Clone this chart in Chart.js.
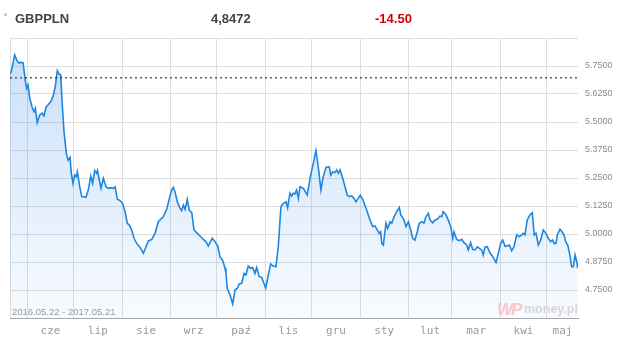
<!DOCTYPE html>
<html>
<head>
<meta charset="utf-8">
<script src="https://cdn.jsdelivr.net/npm/chart.js@4.4.0/dist/chart.umd.min.js"></script>
<style>
  html, body { margin: 0; padding: 0; background: #fff; }
  #wrap { position: relative; width: 626px; height: 351px; overflow: hidden; font-family: "Liberation Sans", Arial, sans-serif; }
  #chart { position: absolute; left: 0; top: 0; }
  .hd { position: absolute; top: 11px; font-weight: bold; font-size: 13px; line-height: 16px; color: #444; white-space: nowrap; }
  #chev { position: absolute; left: 3px; top: 13px; font-size: 10px; color: #888; font-family: "DejaVu Sans", sans-serif; }
  #range { position: absolute; left: 12px; top: 306px; font-size: 9.5px; line-height: 11px; color: #9a9a9a; white-space: nowrap; }
  #wm-wp { position: absolute; left: 497px; top: 300px; font-size: 17px; font-weight: bold; font-style: italic; color: #f5c9c9; letter-spacing: -2px; }
  #wm-money { position: absolute; left: 524px; top: 302px; font-size: 12.5px; font-weight: bold; color: #d6d6d6; }
</style>
</head>
<body>
<div id="wrap">
  <canvas id="chart" width="626" height="351"></canvas>
  <div id="chev">˅</div>
  <div class="hd" style="left:15px">GBPPLN</div>
  <div class="hd" style="left:211px">4,8472</div>
  <div class="hd" style="left:375px;color:#d40000">-14.50</div>
  <div id="range">2016.05.22 - 2017.05.21</div>
  <div id="wm-wp">WP</div>
  <div id="wm-money">money.pl</div>
</div>
<script>
// dni od 2016-05-21
const dayOffsets = [
  0, 0.8, 3.0, 4.5, 5.8, 6.9, 8.4, 9.8, 10.7, 11.6, 12.7, 14.1, 15.4, 16.3, 17.5, 19.1,
  20.8, 21.8, 23.3, 24.4, 26.2, 27.6, 29.1, 30.4, 31.5, 32.6, 33.4, 34.7, 36.2, 37.3, 38.6, 39.4,
  40.5, 41.6, 42.6, 43.3, 44.8, 46.1, 48.8, 50.3, 51.9, 53.1, 54.4, 55.7, 56.2, 57.4, 58.5, 60.0,
  61.7, 63.2, 64.7, 66.4, 67.5, 69.0, 70.7, 72.4, 73.9, 75.4, 76.7, 78.2, 79.7, 81.4, 83.5, 85.7,
  87.4, 88.9, 91.1, 93.2, 95.3, 96.8, 98.5, 100.7, 102.4, 103.9, 104.9, 106.0, 107.5, 109.2, 110.3, 111.4,
  112.5, 113.9, 115.2, 116.8, 118.2, 120.0, 122.1, 124.2, 125.9, 127.4, 128.5, 130.0, 131.7, 133.5, 134.9, 136.7,
  138.2, 138.8, 139.6, 141.4, 143.1, 144.6, 146.1, 147.3, 148.9, 150.4, 151.6, 153.1, 154.7, 156.0, 157.4, 158.5,
  160.2, 161.7, 162.8, 164.3, 166.0, 167.5, 169.2, 170.9, 172.4, 174.1, 175.6, 177.4, 178.4, 179.9, 181.0, 182.0,
  183.1, 184.2, 185.3, 186.4, 188.5, 191.0, 193.2, 194.9, 196.6, 198.1, 199.8, 201.3, 203.1, 205.2, 206.1, 207.4,
  208.8, 209.9, 211.0, 212.1, 213.8, 215.3, 216.7, 218.0, 219.6, 221.1, 222.3, 223.8, 225.1, 226.6, 229.2, 231.3,
  233.1, 234.5, 236.0, 237.3, 238.2, 238.9, 239.9, 241.6, 242.7, 244.2, 245.3, 246.8, 248.5, 250.2, 251.1, 252.7,
  254.5, 256.0, 257.5, 258.8, 260.2, 261.7, 263.0, 264.6, 266.0, 267.3, 268.8, 269.9, 271.6, 273.1, 274.6, 276.3,
  277.4, 278.4, 280.2, 281.6, 283.2, 284.5, 285.3, 287.0, 288.7, 290.3, 291.7, 293.5, 294.5, 296.0, 297.3, 298.8,
  300.3, 301.6, 303.1, 304.1, 305.2, 306.7, 308.4, 310.2, 312.3, 313.8, 315.3, 316.6, 318.1, 319.2, 320.9, 322.4,
  323.9, 325.6, 327.3, 328.8, 329.8, 330.9, 332.4, 334.1, 335.6, 336.9, 338.0, 339.5, 341.0, 342.7, 344.4, 345.9,
  347.4, 348.7, 349.6, 350.9, 351.7, 353.4, 354.7, 356.0, 357.1, 358.4, 359.8, 360.9, 362.0, 363.1, 364.2, 364.8
];
const prices = [
  5.713, 5.725, 5.799, 5.774, 5.762, 5.766, 5.765, 5.687, 5.650, 5.665, 5.606, 5.568, 5.546, 5.561, 5.497, 5.531,
  5.539, 5.527, 5.568, 5.576, 5.591, 5.613, 5.658, 5.729, 5.714, 5.710, 5.598, 5.457, 5.360, 5.330, 5.342, 5.271,
  5.226, 5.263, 5.256, 5.278, 5.211, 5.167, 5.164, 5.196, 5.259, 5.226, 5.283, 5.271, 5.283, 5.241, 5.204, 5.249,
  5.211, 5.204, 5.207, 5.204, 5.211, 5.155, 5.149, 5.137, 5.100, 5.048, 5.040, 5.018, 4.981, 4.958, 4.941, 4.914,
  4.943, 4.969, 4.976, 5.003, 5.055, 5.066, 5.077, 5.110, 5.159, 5.196, 5.208, 5.189, 5.144, 5.115, 5.104, 5.129,
  5.110, 5.155, 5.107, 5.095, 5.018, 5.006, 4.991, 4.976, 4.966, 4.946, 4.961, 4.981, 4.966, 4.946, 4.899, 4.881,
  4.847, 4.824, 4.758, 4.728, 4.688, 4.750, 4.758, 4.777, 4.780, 4.824, 4.817, 4.857, 4.847, 4.850, 4.824, 4.850,
  4.809, 4.807, 4.787, 4.758, 4.817, 4.866, 4.857, 4.854, 4.943, 5.122, 5.137, 5.144, 5.117, 5.182, 5.170, 5.182,
  5.179, 5.196, 5.159, 5.211, 5.204, 5.174, 5.263, 5.315, 5.372, 5.300, 5.196, 5.256, 5.298, 5.300, 5.263, 5.278,
  5.274, 5.286, 5.271, 5.286, 5.249, 5.211, 5.174, 5.167, 5.170, 5.159, 5.144, 5.159, 5.174, 5.155, 5.107, 5.063,
  5.033, 5.036, 5.018, 5.003, 5.010, 4.958, 4.951, 5.048, 5.025, 5.055, 5.048, 5.077, 5.100, 5.119, 5.085, 5.070,
  5.033, 5.055, 5.018, 4.981, 4.973, 5.010, 5.048, 5.055, 5.048, 5.077, 5.092, 5.063, 5.050, 5.063, 5.066, 5.080,
  5.077, 5.100, 5.085, 5.063, 5.033, 4.981, 5.010, 4.976, 4.970, 4.976, 4.961, 4.951, 4.929, 4.961, 4.932, 4.929,
  4.943, 4.936, 4.929, 4.906, 4.941, 4.943, 4.916, 4.899, 4.872, 4.914, 4.958, 4.973, 4.946, 4.946, 4.951, 4.925,
  4.943, 4.996, 4.988, 4.996, 5.003, 4.996, 5.063, 5.085, 5.095, 4.996, 5.003, 4.951, 4.973, 5.018, 5.003, 4.981,
  4.966, 4.973, 4.958, 4.958, 4.996, 5.021, 5.010, 4.996, 4.966, 4.951, 4.906, 4.854, 4.854, 4.906, 4.876, 4.8472
];
const refLevel = 5.697;

// początki miesięcy (dni od 2016-05-21) i ich podpisy
const monthStarts = [11, 41, 72, 103, 133, 164, 194, 225, 256, 284, 315, 345];
const monthLabels = ['cze', 'lip', 'sie', 'wrz', 'paź', 'lis', 'gru', 'sty', 'lut', 'mar', 'kwi', 'maj'];
const priceTicks = [4.625, 4.75, 4.875, 5.0, 5.125, 5.25, 5.375, 5.5, 5.625, 5.75, 5.875];
const X_END = 365;

// podpis miesiąca w środku między liniami siatki
const monthMids = monthStarts.map((s, i) => (s + (i < monthStarts.length - 1 ? monthStarts[i + 1] : X_END)) / 2);
const gridDays = [0].concat(monthStarts);

const GRID = '#dedede';

const ctx = document.getElementById('chart').getContext('2d');
new Chart(ctx, {
  type: 'line',
  data: {
    datasets: [
      {
        label: 'ref',
        data: [{x: 0, y: refLevel}, {x: X_END, y: refLevel}],
        borderColor: '#111',
        borderWidth: 1,
        borderDash: [2, 3],
        pointRadius: 0,
        fill: false,
        order: 0
      },
      {
        label: 'GBPPLN',
        data: dayOffsets.map((d, i) => ({x: d, y: prices[i]})),
        borderColor: '#1f86e0',
        borderWidth: 1.6,
        pointRadius: 0,
        tension: 0,
        fill: 'start',
        backgroundColor: (c) => {
          const area = c.chart.chartArea;
          if (!area) return 'rgba(40,130,230,0.15)';
          const g = c.chart.ctx.createLinearGradient(0, area.top, 0, area.bottom);
          g.addColorStop(0, 'rgba(40,130,235,0.26)');
          g.addColorStop(1, 'rgba(40,130,235,0.03)');
          return g;
        },
        order: 1
      }
    ]
  },
  options: {
    responsive: false,
    animation: false,
    layout: { padding: { top: 38, left: 10, right: 0, bottom: 0 } },
    plugins: { legend: { display: false }, tooltip: { enabled: false } },
    scales: {
      x: {
        type: 'linear',
        min: 0,
        max: X_END,
        afterBuildTicks: (s) => {
          s.ticks = gridDays.concat(monthMids).sort((a, b) => a - b).map(v => ({value: v}));
        },
        afterFit: (s) => { s.height = 33; },
        grid: {
          drawTicks: false,
          color: (c) => (c.tick && gridDays.includes(c.tick.value)) ? GRID : 'rgba(0,0,0,0)'
        },
        border: { color: '#a8a8a8', width: 1 },
        ticks: {
          autoSkip: false,
          maxRotation: 0,
          padding: 7,
          color: '#9a9a9a',
          font: { family: 'DejaVu Sans Mono', size: 11 },
          callback: (v) => {
            const i = monthMids.indexOf(v);
            return i < 0 ? '' : monthLabels[i];
          }
        }
      },
      y: {
        position: 'right',
        min: 4.625,
        max: 5.875,
        afterBuildTicks: (s) => { s.ticks = priceTicks.map(v => ({value: v})); },
        afterFit: (s) => { s.width = 48; },
        grid: { color: GRID, drawTicks: false },
        border: { display: false },
        ticks: {
          padding: 7,
          color: '#8a8a8a',
          font: { family: 'Liberation Sans', size: 9 },
          callback: (v, i) => (i === 0 || i === priceTicks.length - 1) ? '' : Number(v).toFixed(4)
        }
      }
    }
  }
});
</script>
</body>
</html>
